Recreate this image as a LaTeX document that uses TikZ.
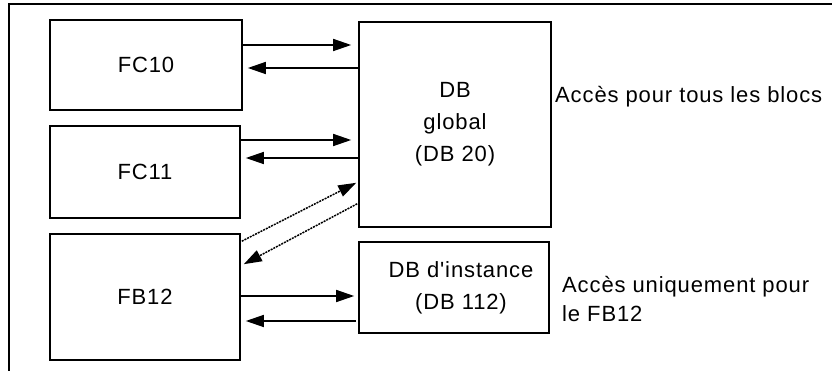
\documentclass[tikz,border=0pt]{standalone}
\usepackage{fontspec}
\setmainfont{Liberation Sans}[LetterSpace=4,Ligatures=TeXOff]
\usetikzlibrary{arrows.meta,calc}
\tikzset{
  bloc/.style={draw,line width=1.6pt,inner sep=0pt},
  acces/.style={line width=1.5pt,-{Triangle[length=18pt,width=12pt]}},
  diag/.style={acces,dash pattern=on 2pt off 1pt},
}

\begin{document}
\begin{tikzpicture}[x=1pt,y=-1pt,font=\fontsize{22}{32}\selectfont]
	\useasboundingbox (0,0) rectangle (832,371);
	% cadre
	\draw[line width=2pt] (9,371) -- (9,4.3) -- (832,4.3);

	% blocs
	\node[bloc,minimum width=192pt,minimum height=90pt] (FC10) at (146,65) {FC10};
	\node[bloc,minimum width=190pt,minimum height=92pt] (FC11) at (145,172) {FC11};
	\node[bloc,minimum width=190pt,minimum height=126pt] (FB12) at (145,297) {FB12};
	\node[bloc,minimum width=192pt,minimum height=205pt,align=center] (DBg) at (455,124.5) {DB\\global\\(DB 20)};
	\node[bloc,minimum width=190pt,minimum height=91pt] (DBi) at (454,287.5) {};
	\node[align=center] (DBitxt) at ($(DBi)+(7,0)$) {DB d'instance\\(DB 112)};

	% textes
	\node[anchor=base west,inner sep=0pt] (accglob) at (555,103) {Accès pour tous les blocs};
	\node[anchor=base west,inner sep=0pt] (accfb) at (562,292) {Accès uniquement pour};
	\node[anchor=base west,inner sep=0pt] (accfbb) at (562,321) {le FB12};

	% acces
	\draw[acces] ($(FC10.east)+(0,-20)$) -- ($(FC10.east -| DBg.west)+(-7,-20)$);
	\draw[acces] ($(FC10.east -| DBg.west)+(0,3)$) -- ($(FC10.east)+(5,3)$);
	\draw[acces] ($(FC11.east)+(0,-32)$) -- ($(FC11.east -| DBg.west)+(-7,-32)$);
	\draw[acces] ($(FC11.east -| DBg.west)+(0,-14)$) -- ($(FC11.east)+(5,-14)$);
	\draw[diag] ($(FB12.north east)+(1,8)$) -- ($(DBg.south west)+(-2,-45)$);
	\draw[diag] ($(DBg.south west)+(-1,-24)$) -- ($(FB12.north east)+(3,31)$);
	\draw[acces] ($(FB12.east)+(0,-1)$) -- ($(FB12.east -| DBi.west)+(-4,-1)$);
	\draw[acces] ($(FB12.east -| DBi.west)+(-2,24)$) -- ($(FB12.east)+(5,24)$);
\end{tikzpicture}
\end{document}
